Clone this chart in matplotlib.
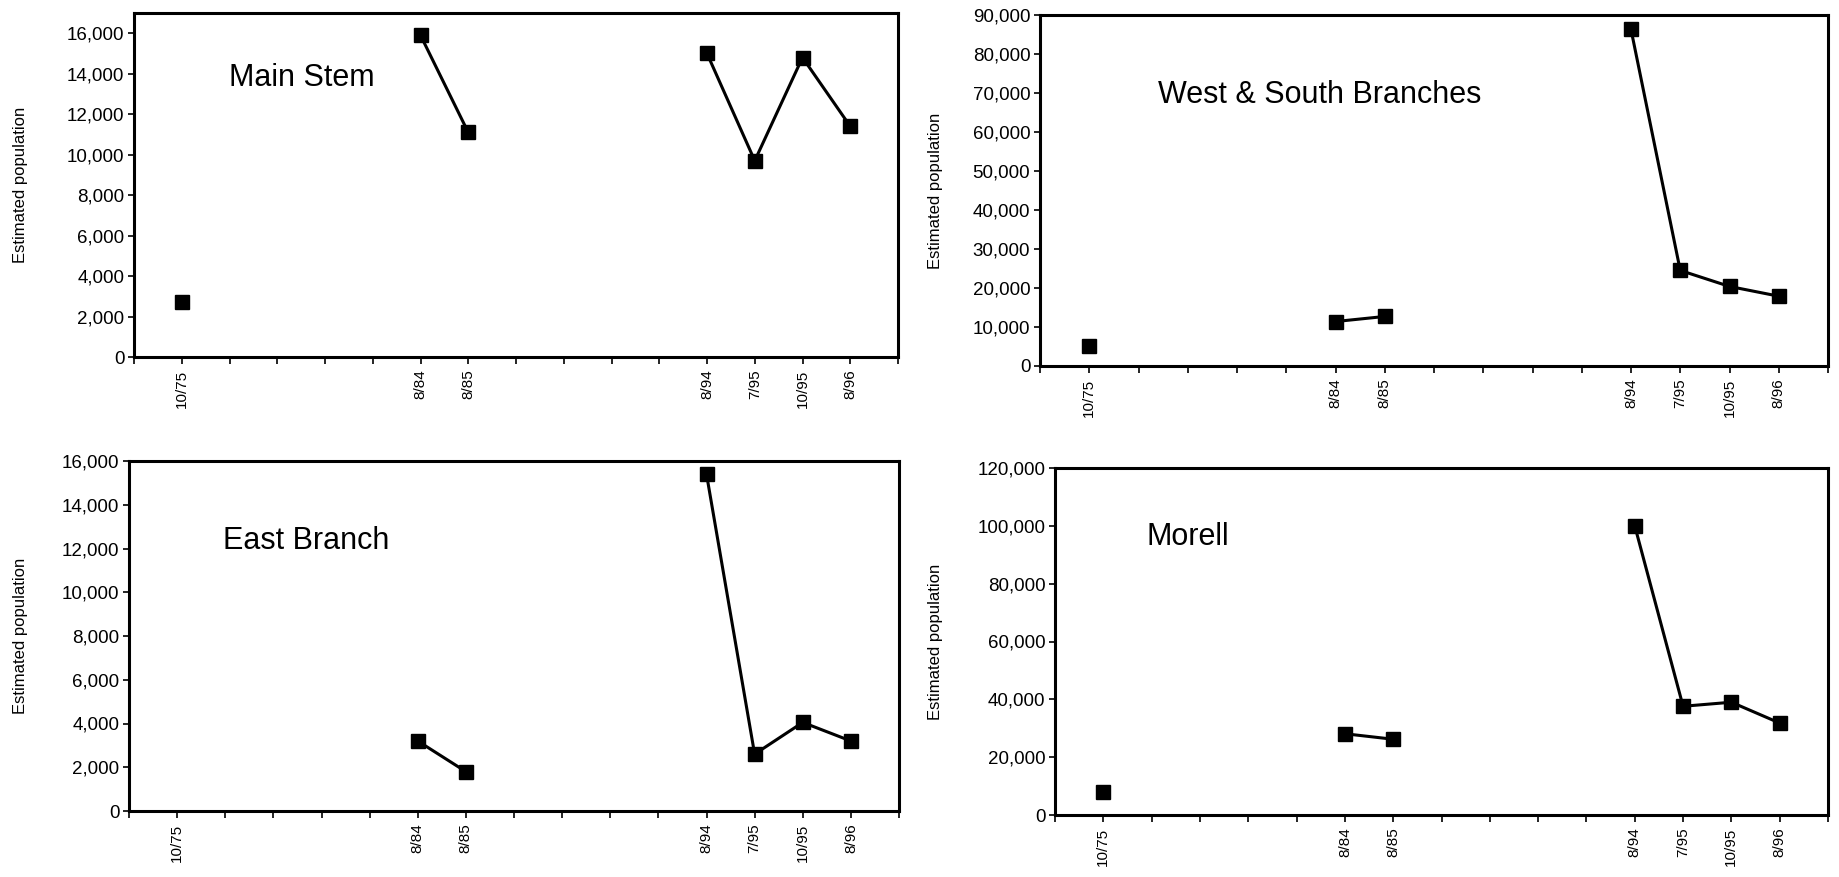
import numpy as np
import matplotlib
matplotlib.use("Agg")
import matplotlib.pyplot as plt
from matplotlib.ticker import FuncFormatter

plt.rcParams['font.family'] = ['Liberation Sans', 'DejaVu Sans']

# category positions on the x axis (16 slots, only some labelled)
positions = [1, 6, 7, 12, 13, 14, 15]
date_labels = ["10/75", "8/84", "8/85", "8/94", "7/95", "10/95", "8/96"]

nan = np.nan
main_stem = [2700, 15900, 11100, 15000, 9700, 14800, 11400]
west_south = [5100, 11400, 12700, 86300, 24500, 20400, 17900]
east_branch = [nan, 3200, 1800, 15400, 2600, 4050, 3200]
morell = [7900, 28100, 26200, 100000, 37600, 39000, 31800]

panels = [
    # name, values, ymax, ystep, top tick, pixel box (l, t, r, b), title pos, ylabel x (axes frac)
    ("Main Stem", main_stem, 17000, 2000, 16000, (134, 13, 898, 357), (0.124, 0.810), -0.139),
    ("West & South Branches", west_south, 90000, 10000, 90000, (1040, 15, 1828, 366), (0.150, 0.772), -0.123),
    ("East Branch", east_branch, 16000, 2000, 16000, (129, 461, 899, 811), (0.122, 0.772), -0.131),
    ("Morell", morell, 120000, 20000, 120000, (1055, 468, 1828, 815), (0.118, 0.800), -0.145),
]

W, H = 1839, 877
fig = plt.figure(figsize=(W / 100, H / 100), dpi=100)

for name, vals, ymax, ystep, ytop, (l, t, r, b), (tx, ty), ylx in panels:
    ax = fig.add_axes([l / W, 1 - b / H, (r - l) / W, (b - t) / H])
    x = np.arange(1, 16)
    y = np.full(15, np.nan)
    for p, v in zip(positions, vals):
        y[p - 1] = v
    ax.plot(x, y, color="black", lw=2.2, marker="s", ms=10, mfc="black", mec="black")
    ax.set_xlim(0, 16)
    ax.set_ylim(0, ymax)
    ax.set_xticks(np.arange(0, 17))
    lab = [""] * 17
    for p, s in zip(positions, date_labels):
        lab[p] = s
    ax.set_xticklabels(lab, rotation=90, fontsize=11)
    ax.set_yticks(np.arange(0, ytop + 1, ystep))
    ax.yaxis.set_major_formatter(FuncFormatter(lambda v, _: f"{int(v):,}"))
    ax.tick_params(axis="y", labelsize=13.5, length=4, width=1.2, direction="out", pad=3)
    ax.tick_params(axis="x", length=5, width=1.2, direction="out", pad=4)
    for s in ax.spines.values():
        s.set_linewidth(2.2)
        s.set_color("black")
    ax.set_ylabel("Estimated population", fontsize=12)
    ax.yaxis.set_label_coords(ylx, 0.5)
    ax.text(tx, ty, name, transform=ax.transAxes, fontsize=22,
            va="center", ha="left")

fig.savefig("out.png", dpi=100)
